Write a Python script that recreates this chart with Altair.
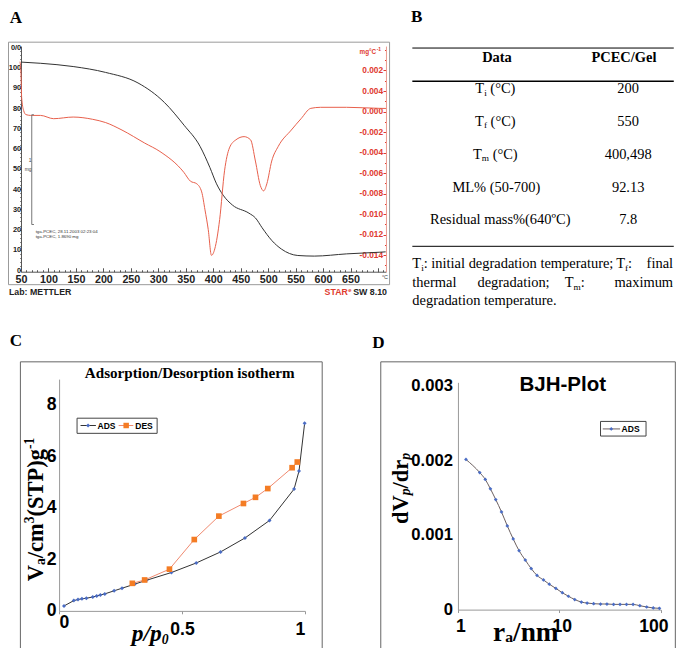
import altair as alt
import pandas as pd

S = 669 / 685
W, H = 669, 640
SERIF = "Liberation Serif"
SANS = "Liberation Sans"


def P(v):
    return round(v * S, 2)


# ---------------- data ----------------
# Panel A: TGA (left axis, %) and DTG (right axis, mg/°C)
tg_temp = [50, 86, 145, 204, 263, 311, 347, 376, 394, 406, 418, 435, 465, 477, 489, 507, 524, 554, 584, 643, 702, 714]
tg_mass = [102.7, 102.1, 100.5, 97.6, 92.4, 82.8, 71.5, 61.1, 50.6, 42.6, 37.0, 32.1, 28.1, 25.7, 20.9, 14.5,
           10.4, 7.2, 6.9, 8.0, 8.8, 9.0]
dtg_temp = [48.2, 50, 51.2, 54.8, 58.9, 67.8, 85.6, 109.4, 145, 180.5, 204.2, 233.9, 275.3, 303, 346.5, 358.4,
            370.1, 379, 385, 390.9, 396.8, 402.8, 411.7, 420.6, 429.5, 441.3, 456.2, 468, 476.8, 485.7, 491.8,
            497.6, 506.5, 518.4, 542.1, 559.9, 577.7, 595.5, 642.9, 702.2, 714.5]
dtg_val = [0.00486, 0.0037, 0.00136, 0.0001, -0.0003, -0.00038, -0.00038, -0.0007, -0.00054, -0.00076, -0.00108,
           -0.00181, -0.00308, -0.0039, -0.00593, -0.00679, -0.00705, -0.00784, -0.00959, -0.0115, -0.01403,
           -0.0134, -0.01054, -0.00578, -0.00355, -0.00276, -0.00245, -0.00276, -0.00483, -0.00721, -0.00774,
           -0.00705, -0.00483, -0.0034, -0.00181, -0.0007, 0.00031, 0.00041, 0.00041, 0.00031, 0.0003]
scale_bar_T = [69.6]
scale_bar_lo = [22.5]
scale_bar_hi = [76.7]

# Panel B: table
table_values = ["200", "550", "400,498", "92.13", "7.8"]

# Panel C: adsorption / desorption isotherm
ads_p = [0.020, 0.060, 0.077, 0.093, 0.111, 0.137, 0.153, 0.168, 0.186, 0.224, 0.256, 0.308, 0.356, 0.457,
         0.558, 0.657, 0.756, 0.856, 0.956, 0.976, 0.999]
ads_v = [0.19, 0.40, 0.44, 0.47, 0.49, 0.54, 0.58, 0.62, 0.66, 0.78, 0.88, 1.04, 1.19, 1.49, 1.86, 2.29, 2.83,
         3.51, 4.73, 5.43, 7.29]
des_p = [0.298, 0.348, 0.449, 0.550, 0.650, 0.750, 0.799, 0.849, 0.948, 0.969]
des_v = [1.07, 1.20, 1.62, 2.77, 3.68, 4.17, 4.41, 4.75, 5.56, 5.78]

# Panel D: BJH plot
bjh_r = [1.20, 1.64, 1.86, 2.09, 2.36, 2.69, 3.07, 3.51, 4.01, 4.62, 5.28, 6.03, 6.98, 7.97, 9.25, 10.7, 12.3,
         14.2, 16.5, 18.8, 21.8, 25.5, 29.5, 34.3, 39.7, 46.0, 53.4, 62.3, 72.8, 84.5, 97.2]
bjh_dv = [0.002011, 0.001836, 0.001744, 0.001618, 0.001474, 0.001308, 0.001121, 0.000946, 0.000789, 0.000663,
          0.000550, 0.000458, 0.000397, 0.000340, 0.000284, 0.000226, 0.000179, 0.000135, 0.000101, 0.000088,
          0.000079, 0.000075, 0.000075, 0.000070, 0.000070, 0.000070, 0.000070, 0.000052, 0.000035, 0.000022,
          0.000017]

# ---------------- helpers ----------------
TR = {' ': 250, '(': 333, ')': 333, '°': 400, 'º': 310, '%': 833, '-': 333, '.': 250, ',': 250, ':': 278,
      ';': 278, '/': 278, 'C': 667, 'D': 722, 'E': 611, 'G': 722, 'L': 611, 'M': 889, 'P': 556, 'R': 667,
      'T': 611, 'a': 444, 'c': 444, 'd': 500, 'e': 444, 'f': 333, 'g': 500, 'h': 500, 'i': 278, 'l': 278,
      'm': 778, 'n': 500, 'o': 500, 'p': 500, 'r': 333, 's': 389, 't': 278, 'u': 500, 'x': 500}
TB = {' ': 250, '(': 333, ')': 333, '/': 278, '-': 333, 'A': 722, 'C': 722, 'D': 722, 'E': 667, 'G': 778,
      'P': 611, 'S': 556, 'T': 667, 'V': 722, 'a': 500, 'c': 444, 'd': 556, 'e': 444, 'g': 500, 'l': 278,
      'm': 833, 'n': 556, 'o': 500, 'p': 556, 'r': 444, 's': 389, 't': 333}
TBI = {'/': 278, 'p': 500, '0': 500}


def tw(s, tab, size):
    return sum(tab.get(c, 500) for c in s) / 1000.0 * size


dummy = pd.DataFrame({"k": [0]})


def text(s, x, y, size, font=SERIF, weight="normal", style="normal", color="black", align="left", angle=0):
    return alt.Chart(dummy).mark_text(
        text=s, font=font, fontSize=P(size), fontWeight=weight, fontStyle=style, color=color,
        align=align, baseline="middle", angle=angle
    ).encode(x=alt.value(P(x)), y=alt.value(P(y)))


def rich(segs, x, y, align="left", angle=0, color="black", font=SERIF):
    ws = [tw(s[0], s[2], s[1]) for s in segs]
    total = sum(ws)
    off = -total / 2 if align == "center" else (-total if align == "right" else 0)
    out = []
    pos = (x + off) if angle == 0 else (y - off)
    for (t, sz, tab, wt, st, sh), w in zip(segs, ws):
        stripped = t.lstrip(" ")
        lead = tw(" " * (len(t) - len(stripped)), tab, sz)
        if angle == 0:
            out.append(text(stripped, pos + lead, y + sh, sz, font=font, weight=wt, style=st, color=color))
            pos += w
        else:
            out.append(text(stripped, x + sh, pos - lead, sz, font=font, weight=wt, style=st, color=color,
                            angle=270))
            pos -= w
    return out


def rect(x0, y0, x1, y1, color, width=1.0, fill=False):
    kw = dict(stroke=color, strokeWidth=width, fill="white", fillOpacity=1 if fill else 0)
    return alt.Chart(dummy).mark_rect(**kw).encode(
        x=alt.value(P(x0)), x2=alt.value(P(x1)), y=alt.value(P(y0)), y2=alt.value(P(y1)))


def hrule(x0, x1, y, color="black", width=1.0):
    return alt.Chart(dummy).mark_rule(color=color, strokeWidth=width).encode(
        x=alt.value(P(x0)), x2=alt.value(P(x1)), y=alt.value(P(y)))


def dot(x, y, shape, color, size):
    return alt.Chart(dummy).mark_point(shape=shape, filled=True, color=color, size=size, opacity=1).encode(
        x=alt.value(P(x)), y=alt.value(P(y)))


def ax(**kw):
    base = dict(title=None, grid=False, labelFont=SANS, labelFontWeight="bold", labelColor="#111")
    base.update(kw)
    return alt.Axis(**base)


layers = []

# ---------------- Panel A ----------------
RED = "#e03a2f"
xA = alt.Scale(domain=[50, 714.5], range=[P(13.3), P(387)], nice=False, zero=False)
yAL = alt.Scale(domain=[-0.8, 110.6], range=[P(270), P(39)], nice=False, zero=False)
yAR = alt.Scale(domain=[-0.01562, 0.00638], range=[P(270), P(39)], nice=False, zero=False)

tg_df = pd.DataFrame({"T": tg_temp, "m": tg_mass})
dtg_df = pd.DataFrame({"T": dtg_temp, "v": dtg_val})

layers.append(rect(0.5, 35, 390.7, 283.3, "#9a9a9a"))

right_vals = [round(-0.014 + 0.002 * i, 3) for i in range(10)]
right_minor = [round(-0.015 + 0.001 * i, 3) for i in range(22)]

layers.append(alt.Chart(tg_df).mark_point(opacity=0).encode(
    x=alt.X("T:Q", scale=xA, axis=ax(orient="top", offset=-P(270), values=list(range(50, 711, 10)),
                                     labels=False, domain=False, tickSize=P(2), tickColor="#555")),
    y=alt.Y("m:Q", scale=yAL, axis=ax(orient="left", offset=-P(13.3), values=list(range(0, 111, 2)),
                                      labels=False, domain=False, tickSize=P(1.2), tickColor="#555")),
))
layers.append(alt.Chart(dtg_df).mark_point(opacity=0).encode(
    x=alt.X("T:Q", scale=xA, axis=None),
    y=alt.Y("v:Q", scale=yAR, axis=ax(orient="left", offset=-P(387), values=right_minor, labels=False,
                                      domain=False, tickSize=P(1.5), tickColor=RED)),
))
layers.append(alt.Chart(tg_df).mark_line(color="#333333", strokeWidth=1, interpolate="monotone").encode(
    x=alt.X("T:Q", scale=xA, axis=ax(orient="bottom", offset=P(270) - H, values=list(range(50, 651, 50)),
                                     ticks=False, tickSize=0, domain=False, labelPadding=P(3), labelFlush=False,
                                     labelFontSize=P(11), labelColor="#222")),
    y=alt.Y("m:Q", scale=yAL, axis=ax(orient="left", offset=-P(13.3), values=list(range(0, 111, 10)),
                                      labelExpr="datum.value == 110 ? '0/0' : format(datum.value, 'd')",
                                      tickSize=P(1.5), labelPadding=-P(1.2), domainColor="#555",
                                      tickColor="#555", labelFontSize=P(7.6), labelColor="#222")),
))
layers.append(alt.Chart(dtg_df).mark_line(color="#e8604c", strokeWidth=1, interpolate="monotone").encode(
    x=alt.X("T:Q", scale=xA, axis=ax(orient="top", offset=-P(270), values=list(range(50, 701, 50)),
                                     labels=False, tickSize=P(4), domainColor="#555", tickColor="#555")),
    y=alt.Y("v:Q", scale=yAR, axis=ax(
        orient="left", offset=-P(387), values=right_vals,
        labelExpr="abs(datum.value - 0.004) < 1e-6 ? '0.002' : abs(datum.value - 0.002) < 1e-6 ? '0.004' : "
                  "(datum.value < -1e-6 ? '-' : '') + format(abs(datum.value), '.3f')",
        labelColor=RED, tickColor=RED, domainColor="#ec9a90", tickSize=P(3), labelPadding=P(0.5),
        labelFontSize=P(8.5))),
))
sb_df = pd.DataFrame({"T": scale_bar_T, "lo": scale_bar_lo, "hi": scale_bar_hi})
layers.append(alt.Chart(sb_df).mark_rule(color="#777", strokeWidth=1).encode(
    x=alt.X("T:Q", scale=xA, axis=None), y=alt.Y("lo:Q", scale=yAL, axis=None), y2="hi:Q"))
cap_df = pd.DataFrame({"T0": scale_bar_T * 2, "T1": [scale_bar_T[0] + 4] * 2, "m": scale_bar_lo + scale_bar_hi})
layers.append(alt.Chart(cap_df).mark_rule(color="#777", strokeWidth=1).encode(
    x=alt.X("T0:Q", scale=xA, axis=None), x2="T1:Q", y=alt.Y("m:Q", scale=yAL, axis=None)))

layers += [
    text("1", 22.7, 156.7, 5, font=SANS, color="#444", align="center"),
    text("mg", 20.5, 165.7, 5, font=SANS, color="#444", align="center"),
    text("tga-PCEC, 28.11.2003 02:23:04", 28.3, 229.7, 4.5, font=SANS, color="#333"),
    text("tga-PCEC, 1.8690 mg", 28.3, 234.7, 4.5, font=SANS, color="#333"),
    text("mg°C", 377, 45, 6.5, font=SANS, weight="bold", color=RED, align="right"),
    text("-1", 377.5, 43, 5, font=SANS, weight="bold", color=RED),
    text("°C", 386, 275, 5.5, font=SANS, color="#444", align="center"),
    text("Lab: METTLER", 1, 290.8, 9, font=SANS, weight="bold", color="#222"),
    text("STAR", 348, 290.8, 9, font=SANS, weight="bold", color=RED, align="right"),
    text("e", 348.3, 288.3, 6, font=SANS, weight="bold", color=RED),
    text("SW 8.10", 388, 290.8, 9, font=SANS, weight="bold", color="#222", align="right"),
]

# ---------------- Panel B (table) ----------------
FS = 14.8
SUB = 9.5
layers += [
    hrule(414, 681.7, 41, width=1),
    hrule(414, 681.7, 75, width=1.7),
    hrule(414, 681.7, 244, width=1),
    text("Data", 500.7, 51, FS, weight="bold", align="center"),
    text("PCEC/Gel", 630.7, 51, FS, weight="bold", align="center"),
]
row_y = [83.3, 116.7, 150, 184, 217.3]
for sub, yy in zip(["i", "f", "m"], row_y[:3]):
    layers += rich([("T", FS, TR, "normal", "normal", 0), (sub, SUB, TR, "normal", "normal", 3.5),
                    (" (°C)", FS, TR, "normal", "normal", 0)], 499, yy, align="center")
layers.append(text("ML% (50-700)", 500, row_y[3], FS, align="center"))
layers.append(text("Residual mass%(640ºC)", 504, row_y[4], FS, align="center"))
for v, yy in zip(table_values, row_y):
    layers.append(text(v, 635, yy, FS, align="center"))

# footnote
layers += rich([("T", FS, TR, "normal", "normal", 0), ("i", SUB, TR, "normal", "normal", 3.5),
                (": initial degradation temperature;", FS, TR, "normal", "normal", 0)], 414, 262.3)
layers += rich([("T", FS, TR, "normal", "normal", 0), ("f", SUB, TR, "normal", "normal", 3.5),
                (":", FS, TR, "normal", "normal", 0)], 622.7, 262.3)
layers.append(text("final", 681, 262.3, FS, align="right"))
layers.append(text("thermal", 414, 281.7, FS))
layers.append(text("degradation;", 480.7, 281.7, FS))
layers += rich([("T", FS, TR, "normal", "normal", 0), ("m", SUB, TR, "normal", "normal", 3.5),
                (":", FS, TR, "normal", "normal", 0)], 570, 281.7)
layers.append(text("maximum", 681, 281.7, FS, align="right"))
layers.append(text("degradation temperature.", 414, 300, FS))

# ---------------- Panel C ----------------
xC = alt.Scale(domain=[0, 1], range=[P(52.3), P(304)], nice=False, zero=False)
yC = alt.Scale(domain=[0, 9], range=[P(617.3), P(380)], nice=False, zero=False)
ads_df = pd.DataFrame({"p": ads_p, "v": ads_v})
des_df = pd.DataFrame({"p": des_p, "v": des_v})
ADS_BLUE = "#4a6cc4"
DES_OR = "#f47c24"

layers.append(rect(12.7, 362.3, 321.7, 700, "#666"))
layers.append(alt.Chart(ads_df).mark_line(color="#333333", strokeWidth=1).encode(
    x=alt.X("p:Q", scale=xC, axis=ax(
        orient="bottom", offset=P(617.3) - H, values=[0, 0.5, 1], format="~g", tickSize=P(3),
        tickColor="#999", domainColor="#999", labelFontSize=P(18), labelColor="black",
        labelPadding={"condition": {"test": "datum.value == 0", "value": 0}, "value": P(7)})),
    y=alt.Y("v:Q", scale=yC, axis=ax(
        orient="left", offset=-P(52.3), values=[0, 2, 4, 6, 8], format="~g", ticks=False, tickSize=0,
        domainColor="#999", labelPadding=P(3), labelFontSize=P(18), labelColor="black")),
))
layers.append(alt.Chart(des_df).mark_line(color="#f08a70", strokeWidth=1).encode(
    x=alt.X("p:Q", scale=xC, axis=None), y=alt.Y("v:Q", scale=yC, axis=None)))
layers.append(alt.Chart(ads_df).mark_point(shape="diamond", filled=True, color=ADS_BLUE, size=16, opacity=1).encode(
    x=alt.X("p:Q", scale=xC, axis=None), y=alt.Y("v:Q", scale=yC, axis=None)))
layers.append(alt.Chart(des_df).mark_point(shape="square", filled=True, color=DES_OR, size=32, opacity=1).encode(
    x=alt.X("p:Q", scale=xC, axis=None), y=alt.Y("v:Q", scale=yC, axis=None)))

layers += [
    rect(70.7, 420, 152.7, 435.5, "#444", fill=True),
    hrule(74.3, 90, 427.5, color="#333", width=1),
    dot(82, 427.5, "diamond", ADS_BLUE, 16),
    text("ADS", 91.7, 427.7, 8.7, font=SANS, weight="bold"),
    hrule(113.3, 128.3, 427.5, color="#f08a70", width=1),
    dot(121, 427.5, "square", DES_OR, 30),
    text("DES", 130.3, 427.7, 8.7, font=SANS, weight="bold"),
    text("Adsorption/Desorption isotherm", 186, 374, 15.5, weight="bold", align="center"),
]
layers += rich([("V", 23, TB, "bold", "normal", 0), ("a", 14, TB, "bold", "normal", 5),
                ("/cm", 23, TB, "bold", "normal", 0), ("3", 14, TB, "bold", "normal", -7),
                ("(STP)g", 23, TB, "bold", "normal", 0), ("-1", 14, TB, "bold", "normal", -7)],
               29.1, 587, angle=270)
layers += rich([("p/p", 24, TBI, "bold", "italic", 0), ("0", 14, TBI, "bold", "italic", 6)], 126.7, 641)

# ---------------- Panel D ----------------
xD = alt.Scale(type="log", domain=[1, 100], range=[P(460.7), P(668.3)], nice=False)
yD = alt.Scale(domain=[0, 0.003044], range=[P(616), P(383.3)], nice=False, zero=False)
bjh_df = pd.DataFrame({"r": bjh_r, "dv": bjh_dv})

layers.append(rect(381.7, 362.3, 683.3, 700, "#666"))
layers.append(alt.Chart(bjh_df).mark_line(color="#6b5f5f", strokeWidth=1, interpolate="monotone").encode(
    x=alt.X("r:Q", scale=xD, axis=ax(
        orient="bottom", offset=P(616) - H, values=[1, 10, 100], format="~g", tickSize=P(3),
        tickColor="#999", domainColor="#999", labelFlush=False, labelFontSize=P(18), labelColor="black",
        labelPadding=P(5),
        labelOffset={"condition": {"test": "datum.value == 100", "value": P(-7.5)}, "value": P(2.5)})),
    y=alt.Y("dv:Q", scale=yD, axis=ax(
        orient="left", offset=-P(460.7), values=[0, 0.001, 0.002, 0.003],
        labelExpr="datum.value == 0 ? '0' : format(datum.value, '.3f')", ticks=False, tickSize=0,
        domainColor="#999", labelPadding=P(5.7), labelFontSize=P(17), labelColor="black")),
))
layers.append(alt.Chart(bjh_df).mark_point(shape="diamond", filled=True, color=ADS_BLUE, size=14, opacity=1).encode(
    x=alt.X("r:Q", scale=xD, axis=None), y=alt.Y("dv:Q", scale=yD, axis=None)))

layers += [
    rect(606.7, 423.3, 653.3, 438.3, "#444", fill=True),
    hrule(609, 626.7, 431, color="#6b5f5f", width=1),
    dot(617.7, 431, "diamond", ADS_BLUE, 14),
    text("ADS", 628.3, 431.2, 8.7, font=SANS, weight="bold"),
    text("BJH-Plot", 568, 385.5, 21, font=SANS, weight="bold", align="center"),
]
layers += rich([("dV", 23, TB, "bold", "normal", 0), ("p", 14, TBI, "bold", "italic", 5),
                ("/dr", 23, TB, "bold", "normal", 0), ("p", 14, TBI, "bold", "italic", 5)],
               402.5, 528.3, angle=270)
layers += rich([("r", 28, TB, "bold", "normal", 0), ("a", 16, TB, "bold", "normal", 4.5),
                ("/nm", 28, TB, "bold", "normal", 0)], 496.7, 640)

# ---------------- panel letters ----------------
layers += [
    text("A", 1.7, 10, 17.5, weight="bold"),
    text("B", 412.7, 9.2, 17.5, weight="bold"),
    text("C", 1.7, 340.7, 17.5, weight="bold"),
    text("D", 373, 343.5, 17.5, weight="bold"),
]

chart = alt.layer(*layers).resolve_scale(x="independent", y="independent").properties(
    width=W, height=H, autosize=alt.AutoSizeParams(type="none"), padding=0, background="white"
).configure_view(strokeWidth=0)

chart.save("out.html", embed_options={"renderer": "svg", "actions": False})
